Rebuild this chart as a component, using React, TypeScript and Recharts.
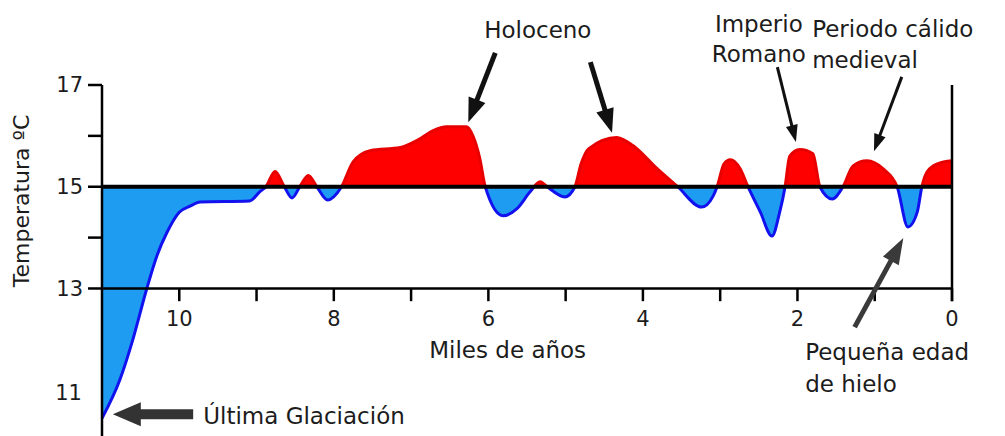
import { ComposedChart, Area, XAxis, YAxis, ReferenceLine, ReferenceDot } from "recharts";

// thousands of years before present, and temperature in ºC
const kiloYears = [
  11, 10.77, 10.6, 10.42, 10.29, 10.16, 10.0, 9.86, 9.73, 9.09,
  8.96, 8.88, 8.76, 8.64, 8.54, 8.44, 8.33, 8.22, 8.08, 7.9,
  7.75, 7.53, 7.14, 6.92, 6.72, 6.54, 6.28, 6.2, 6.11, 6.04,
  5.81, 5.63, 5.46, 5.33, 5.24, 5.01, 4.88, 4.8, 4.7, 4.34, 4.13,
  3.82, 3.55, 3.24, 3.09, 3.04, 2.95, 2.87, 2.74, 2.64, 2.48,
  2.33, 2.23, 2.16, 2.1, 1.97, 1.8, 1.71, 1.55, 1.41, 1.28,
  1.1, 0.89, 0.71, 0.57, 0.45, 0.39, 0.32, 0.19, 0,
];
const temperature = [
  10.45, 11.2, 12.0, 13.0, 13.64, 14.1, 14.5, 14.62, 14.7, 14.72,
  14.9, 15.0, 15.3, 15.0, 14.78, 15.0, 15.22, 15.0, 14.74, 15.0,
  15.49, 15.71, 15.77, 15.91, 16.1, 16.18, 16.18, 16.0, 15.55, 15.0,
  14.43, 14.57, 14.9, 15.1, 15.0, 14.8, 15.0, 15.45, 15.75, 15.97, 15.81,
  15.36, 15.0, 14.6, 14.82, 15.0, 15.45, 15.53, 15.35, 15.0, 14.5,
  14.03, 14.5, 15.0, 15.6, 15.73, 15.65, 15.0, 14.76, 15.0, 15.41,
  15.51, 15.35, 15.0, 14.21, 14.5, 15.0, 15.3, 15.45, 15.51,
];

const mean = 15;
const xTickLabels = [10, 8, 6, 4, 2, 0];
const xTickMarks = [0, 1, 2, 3, 4, 5, 6, 7, 8, 9, 10];
const yTicks = [13, 14, 15, 16, 17];
const yLabelled = [11, 13, 15, 17];

const data = kiloYears.map((ka, i) => ({ ka, temp: temperature[i] }));

const maxT = Math.max(...temperature);
const minT = Math.min(...temperature);
const splitAt = (maxT - mean) / (maxT - minT);

const FONT = "'DejaVu Sans', Verdana, sans-serif";
const INK = "#1c1c1c";

// annotation arrows, in data coordinates [from, to]
const arrows = [
  { from: [5.91, 17.63], to: [6.26, 16.27], shaft: 5, head: 24, wide: 18, color: "#111" },
  { from: [4.68, 17.45], to: [4.4, 16.06], shaft: 5, head: 24, wide: 18, color: "#111" },
  { from: [2.26, 17.35], to: [2.02, 15.88], shaft: 3, head: 17, wide: 12, color: "#111" },
  { from: [0.65, 17.16], to: [1.01, 15.7], shaft: 3, head: 17, wide: 12, color: "#111" },
  { from: [1.26, 12.24], to: [0.63, 13.99], shaft: 5, head: 26, wide: 18, color: "#3a3a3a" },
  { from: [9.82, 10.53], to: [10.86, 10.53], shaft: 10, head: 28, wide: 24, color: "#333" },
];

const notes = [
  { x: 5.36, y: 17.92, text: "Holoceno", anchor: "middle" },
  { x: 2.5, y: 18.04, text: "Imperio", anchor: "middle" },
  { x: 2.5, y: 17.45, text: "Romano", anchor: "middle" },
  { x: 1.81, y: 17.94, text: "Periodo cálido", anchor: "start" },
  { x: 1.81, y: 17.33, text: "medieval", anchor: "start" },
  { x: 1.9, y: 11.59, text: "Pequeña edad", anchor: "start" },
  { x: 1.9, y: 10.97, text: "de hielo", anchor: "start" },
  { x: 9.69, y: 10.34, text: "Última Glaciación", anchor: "start" },
  { x: 5.75, y: 11.63, text: "Miles de años", anchor: "middle" },
];

const arrowShape = (a: any) => (p: any) => {
  const { x1, y1, x2, y2 } = p;
  const dx = x2 - x1;
  const dy = y2 - y1;
  const len = Math.hypot(dx, dy) || 1;
  const ux = dx / len;
  const uy = dy / len;
  const bx = x2 - ux * a.head;
  const by = y2 - uy * a.head;
  const nx = -uy * (a.wide / 2);
  const ny = ux * (a.wide / 2);
  return (
    <g>
      <line x1={x1} y1={y1} x2={bx + ux * 2} y2={by + uy * 2} stroke={a.color} strokeWidth={a.shaft} />
      <polygon points={`${x2},${y2} ${bx + nx},${by + ny} ${bx - nx},${by - ny}`} fill={a.color} />
    </g>
  );
};

const textShape = (text: string, anchor: string, size = 23, rotate = false) => (p: any) => (
  <text
    x={p.cx}
    y={p.cy}
    textAnchor={anchor}
    fontFamily={FONT}
    fontSize={size}
    fill={INK}
    transform={rotate ? `rotate(-90 ${p.cx} ${p.cy})` : undefined}
  >
    {text}
  </text>
);

const tickStyle = { fontFamily: FONT, fontSize: 21, fill: INK };

export default function App() {
  return (
    <div style={{ position: "absolute", left: 0, top: 0, width: 1005, height: 436, background: "#fff" }}>
      <ComposedChart width={1005} height={436} data={data} margin={{ top: 85, right: 0, bottom: 0, left: 0 }}>
        <defs>
          <linearGradient id="tempFill" x1="0" y1="0" x2="0" y2="1">
            <stop offset={0} stopColor="#ff0000" />
            <stop offset={splitAt} stopColor="#ff0000" />
            <stop offset={splitAt} stopColor="#1e9cf2" />
            <stop offset={1} stopColor="#1e9cf2" />
          </linearGradient>
          <linearGradient id="tempStroke" x1="0" y1="0" x2="0" y2="1">
            <stop offset={0} stopColor="#e80000" />
            <stop offset={splitAt} stopColor="#e80000" />
            <stop offset={splitAt} stopColor="#1212ee" />
            <stop offset={1} stopColor="#1212ee" />
          </linearGradient>
        </defs>
        <XAxis type="number" dataKey="ka" domain={[0, 11]} reversed hide />
        <YAxis
          yAxisId="l"
          type="number"
          domain={[10.1, 17]}
          ticks={yTicks}
          width={102}
          tickSize={14}
          tickMargin={5}
          axisLine={{ stroke: "#000", strokeWidth: 2.5 }}
          tickLine={{ stroke: "#000", strokeWidth: 2.5 }}
          tick={tickStyle}
          tickFormatter={(v: number) => (yLabelled.includes(v) ? String(v) : "")}
        />
        <YAxis
          yAxisId="r"
          orientation="right"
          type="number"
          domain={[10.1, 17]}
          ticks={yTicks}
          width={53}
          tickSize={12}
          tickMargin={6}
          axisLine={false}
          tickLine={{ stroke: "#000", strokeWidth: 2.5 }}
          tick={tickStyle}
          tickFormatter={(v: number) => (yLabelled.includes(v) ? String(v) : "")}
        />
        <Area
          yAxisId="l"
          type="monotone"
          dataKey="temp"
          baseValue={mean}
          fill="url(#tempFill)"
          fillOpacity={1}
          stroke="url(#tempStroke)"
          strokeWidth={3}
          isAnimationActive={false}
        />
        <ReferenceLine yAxisId="l" y={mean} stroke="#000" strokeWidth={4} />
        <ReferenceLine yAxisId="l" y={13} stroke="#000" strokeWidth={2.5} />
        <ReferenceLine
          yAxisId="l"
          segment={[{ x: 0, y: 12.75 }, { x: 0, y: 17 }]}
          stroke="#000"
          strokeWidth={2.5}
          ifOverflow="visible"
        />
        {xTickMarks.map((k) => (
          <ReferenceLine
            key={`tm${k}`}
            yAxisId="l"
            segment={[{ x: k, y: 13 }, { x: k, y: 12.75 }]}
            stroke="#000"
            strokeWidth={2.5}
            ifOverflow="visible"
          />
        ))}
        {xTickLabels.map((k) => (
          <ReferenceDot
            key={`tl${k}`}
            yAxisId="l"
            x={k}
            y={12.26}
            ifOverflow="visible"
            shape={textShape(String(k), "middle", 21)}
          />
        ))}
        <ReferenceDot
          yAxisId="l"
          x={11.26}
          y={10.8}
          ifOverflow="visible"
          shape={textShape("11", "end", 21)}
        />
        <ReferenceDot
          yAxisId="l"
          x={11.94}
          y={14.72}
          ifOverflow="visible"
          shape={textShape("Temperatura ºC", "middle", 22, true)}
        />
        {arrows.map((a, i) => (
          <ReferenceLine
            key={`ar${i}`}
            yAxisId="l"
            segment={[{ x: a.from[0], y: a.from[1] }, { x: a.to[0], y: a.to[1] }]}
            ifOverflow="visible"
            shape={arrowShape(a)}
          />
        ))}
        {notes.map((n, i) => (
          <ReferenceDot
            key={`nt${i}`}
            yAxisId="l"
            x={n.x}
            y={n.y}
            ifOverflow="visible"
            shape={textShape(n.text, n.anchor)}
          />
        ))}
      </ComposedChart>
    </div>
  );
}
